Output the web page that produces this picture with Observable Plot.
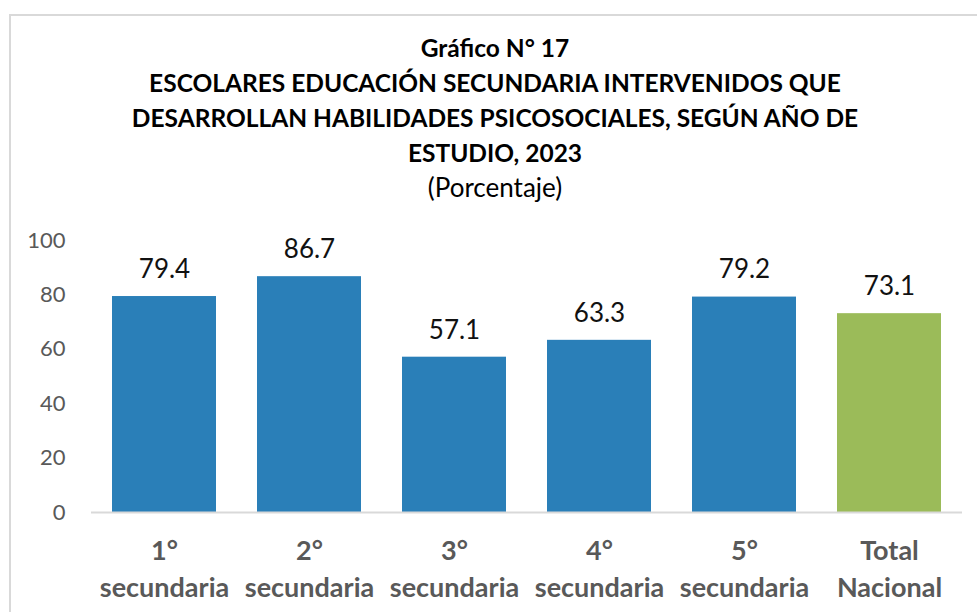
<!DOCTYPE html>
<html>
<head>
<meta charset="utf-8">
<script src="https://cdn.jsdelivr.net/npm/d3@7"></script>
<script src="https://cdn.jsdelivr.net/npm/@observablehq/plot@0.6"></script>
<style>
  html, body { margin: 0; padding: 0; background: #fff; }
  body { width: 977px; height: 612px; overflow: hidden; position: relative; font-family: Lato, "Open Sans", sans-serif; }
  #frame { position: absolute; left: 9px; top: 14px; width: 1000px; height: 640px; border: 2px solid #d9d9d9; box-sizing: border-box; }
  #title { position: absolute; left: 0; top: 30px; width: 990px; text-align: center; color: #000; }
  #title div { line-height: 35px; height: 35px; }
  #title .b { font-weight: 700; font-size: 24.5px; }
  #title .s { font-weight: 400; font-size: 26px; }
  #chart { position: absolute; left: 0; top: 210px; }
</style>
</head>
<body>
<div id="frame"></div>
<div id="title">
  <div class="b">Gráfico N° 17</div>
  <div class="b">ESCOLARES EDUCACIÓN SECUNDARIA INTERVENIDOS QUE</div>
  <div class="b">DESARROLLAN HABILIDADES PSICOSOCIALES, SEGÚN AÑO DE</div>
  <div class="b">ESTUDIO, 2023</div>
  <div class="s">(Porcentaje)</div>
</div>
<div id="chart"></div>
<script>
const categories = ["1° secundaria", "2° secundaria", "3° secundaria", "4° secundaria", "5° secundaria", "Total Nacional"];
const tickLabels = ["1°\nsecundaria", "2°\nsecundaria", "3°\nsecundaria", "4°\nsecundaria", "5°\nsecundaria", "Total\nNacional"];
const values = [79.4, 86.7, 57.1, 63.3, 79.2, 73.1];
const barColors = ["#2A7FB8", "#2A7FB8", "#2A7FB8", "#2A7FB8", "#2A7FB8", "#9BBB59"];
const yTicks = [0, 20, 40, 60, 80, 100];

const data = categories.map((c, i) => ({cat: c, value: values[i], color: barColors[i], tick: tickLabels[i]}));

const chart = Plot.plot({
  width: 977,
  height: 402,
  marginLeft: 91,
  marginRight: 15,
  marginTop: 30,
  marginBottom: 100,
  style: {fontFamily: "Lato, 'Open Sans', sans-serif", background: "transparent", overflow: "visible"},
  x: {domain: categories, paddingInner: 0.28, paddingOuter: 0.14, label: null},
  y: {domain: [0, 100], label: null},
  marks: [
    Plot.barY(data, {x: "cat", y: "value", fill: "color"}),
    Plot.ruleY([0], {stroke: "#d9d9d9", strokeWidth: 2}),
    Plot.axisY({ticks: yTicks, tickSize: 0, tickPadding: 26, fontSize: 22, color: "#595959", label: null}),
    Plot.axisX({tickSize: 0, tickPadding: 22, fontSize: 27, fontWeight: "bold", color: "#595959",
      tickFormat: d => tickLabels[categories.indexOf(d)], lineHeight: 1.35, label: null}),
    Plot.text(data, {x: "cat", y: "value", text: d => d.value.toFixed(1), dy: -27, fontSize: 26, fill: "#111"})
  ]
});
document.getElementById("chart").appendChild(chart);
</script>
</body>
</html>
